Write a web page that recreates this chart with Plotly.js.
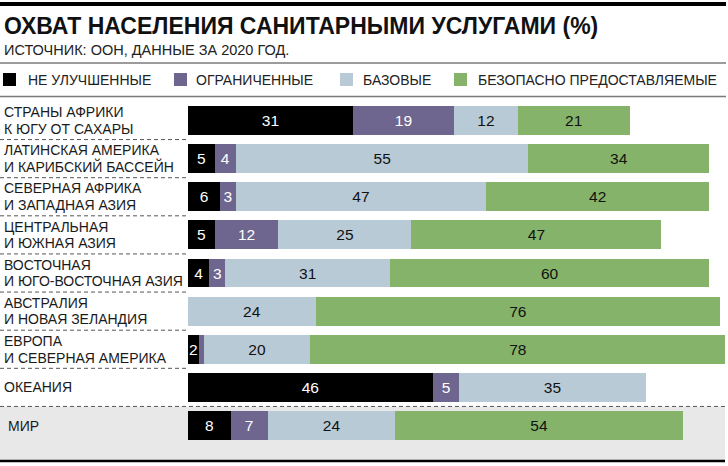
<!DOCTYPE html>
<html>
<head>
<meta charset="utf-8">
<script src="https://cdn.plot.ly/plotly-3.0.1.min.js"></script>
<style>
html,body{margin:0;padding:0;background:#fff;}
#chart{width:728px;height:466px;}
</style>
</head>
<body>
<div id="chart"></div>
<script>
// ---- data ----
const titleText = 'ОХВАТ НАСЕЛЕНИЯ САНИТАРНЫМИ УСЛУГАМИ (%)';
const subtitleText = 'ИСТОЧНИК: ООН, ДАННЫЕ ЗА 2020 ГОД.';
const categories = [
  'СТРАНЫ АФРИКИ<br>К ЮГУ ОТ САХАРЫ',
  'ЛАТИНСКАЯ АМЕРИКА<br>И КАРИБСКИЙ БАССЕЙН',
  'СЕВЕРНАЯ АФРИКА<br>И ЗАПАДНАЯ АЗИЯ',
  'ЦЕНТРАЛЬНАЯ<br>И ЮЖНАЯ АЗИЯ',
  'ВОСТОЧНАЯ<br>И ЮГО-ВОСТОЧНАЯ АЗИЯ',
  'АВСТРАЛИЯ<br>И НОВАЯ ЗЕЛАНДИЯ',
  'ЕВРОПА<br>И СЕВЕРНАЯ АМЕРИКА',
  'ОКЕАНИЯ',
  'МИР'
];
const seriesNames = ['НЕ УЛУЧШЕННЫЕ', 'ОГРАНИЧЕННЫЕ', 'БАЗОВЫЕ', 'БЕЗОПАСНО ПРЕДОСТАВЛЯЕМЫЕ'];
const unimproved = [31, 5, 6, 5, 4, 0, 2, 46, 8];
const limited    = [19, 4, 3, 12, 3, 0, 1, 5, 7];
const basic      = [12, 55, 47, 25, 31, 24, 20, 35, 24];
const safely     = [21, 34, 42, 47, 60, 76, 78, 0, 54];

// ---- styling ----
const W = 728, H = 466;
const FONT = '"Liberation Sans", Arial, Helvetica, sans-serif';
const colors = ['#000000', '#6f668f', '#b9cad7', '#86b36a'];
const textColors = ['#ffffff', '#ffffff', '#111111', '#111111'];
const seriesValues = [unimproved, limited, basic, safely];

const px2x = p => p / W;
const px2y = p => 1 - p / H;

const traces = seriesValues.map((vals, k) => ({
  type: 'bar',
  orientation: 'h',
  name: seriesNames[k],
  y: categories,
  x: vals,
  marker: {color: colors[k], line: {width: 0}},
  text: vals.map(v => v >= 2 ? String(v) : ''),
  textposition: 'inside',
  insidetextanchor: 'middle',
  textangle: 0,
  constraintext: 'none',
  textfont: {family: FONT, size: 15.5, color: textColors[k]},
  hoverinfo: 'none'
}));

// geometry: category index -> pixel center 120.5 + i*38.125 ; value -> 188 + v*5.32
const y0px = 120.5, pitch = 38.125;
const yTop = -y0px / pitch, yBot = (H - y0px) / pitch;
const xL = -188 / 5.32, xR = (W - 188) / 5.32;

const shapes = [];
const annotations = [];

// background for the last row
shapes.push({type: 'rect', xref: 'paper', yref: 'paper', layer: 'below',
  x0: 0, x1: px2x(725), y0: px2y(406.5), y1: px2y(460),
  fillcolor: '#e8e8e8', line: {width: 0}});
// top black bar
shapes.push({type: 'rect', xref: 'paper', yref: 'paper',
  x0: 0, x1: px2x(726), y0: px2y(2), y1: px2y(6), fillcolor: '#000', line: {width: 0}});
// grey rules
[63, 96.5].forEach(p => shapes.push({type: 'line', xref: 'paper', yref: 'paper',
  x0: 0, x1: px2x(726), y0: px2y(p), y1: px2y(p), line: {color: '#7a7a7a', width: 1.5}}));
// bottom black rule
shapes.push({type: 'line', xref: 'paper', yref: 'paper',
  x0: 0, x1: px2x(725), y0: px2y(461), y1: px2y(461), line: {color: '#000', width: 2.5}});
// dashed separators
for (let i = 0; i < categories.length - 1; i++) {
  const p = y0px + (i + 0.5) * pitch;
  const last = (i === categories.length - 2);
  shapes.push({type: 'line', xref: 'paper', yref: 'paper',
    x0: 0, x1: px2x(last ? 725 : 187), y0: px2y(p), y1: px2y(p),
    line: {color: '#555', width: 1, dash: '4px,3px'}});
}

// title & subtitle
annotations.push({xref: 'paper', yref: 'paper', x: px2x(2), y: px2y(25.5), xanchor: 'left', yanchor: 'middle',
  text: '<b>' + titleText + '</b>', showarrow: false, font: {family: FONT, size: 23, color: '#111'}});
annotations.push({xref: 'paper', yref: 'paper', x: px2x(2), y: px2y(50), xanchor: 'left', yanchor: 'middle',
  text: subtitleText, showarrow: false, font: {family: FONT, size: 14.5, color: '#222'}});

// legend
const legSq = [3, 174, 340, 454];
const legTx = [26, 194, 361, 476];
seriesNames.forEach((n, k) => {
  shapes.push({type: 'rect', xref: 'paper', yref: 'paper',
    x0: px2x(legSq[k]), x1: px2x(legSq[k] + 13), y0: px2y(73), y1: px2y(86),
    fillcolor: colors[k], line: {width: 0}});
  annotations.push({xref: 'paper', yref: 'paper', x: px2x(legTx[k]), y: px2y(80), xanchor: 'left', yanchor: 'middle',
    text: n, showarrow: false, font: {family: FONT, size: 14, color: '#222'}});
});

// row labels
categories.forEach((c, i) => {
  const lines = c.split('<br>');
  const cy = y0px + i * pitch;
  const indent = (i === categories.length - 1) ? 6 : 2;
  lines.forEach((ln, j) => {
    const off = lines.length === 1 ? 0 : (j === 0 ? -8.3 : 8.3);
    annotations.push({xref: 'paper', yref: 'paper', x: px2x(indent), y: px2y(cy + off),
      xanchor: 'left', yanchor: 'middle', text: ln, showarrow: false,
      font: {family: FONT, size: 14, color: '#1a1a1a'}});
  });
});

const layout = {
  width: W, height: H,
  margin: {l: 0, r: 0, t: 0, b: 0, pad: 0},
  paper_bgcolor: '#fff', plot_bgcolor: 'rgba(0,0,0,0)',
  barmode: 'stack', bargap: 0.24,
  showlegend: false,
  xaxis: {range: [xL, xR], visible: false, fixedrange: true},
  yaxis: {type: 'category', categoryorder: 'array', categoryarray: categories,
          range: [yBot, yTop], visible: false, fixedrange: true},
  shapes: shapes,
  annotations: annotations,
  font: {family: FONT}
};

Plotly.newPlot('chart', traces, layout, {displayModeBar: false, staticPlot: true});
</script>
</body>
</html>
